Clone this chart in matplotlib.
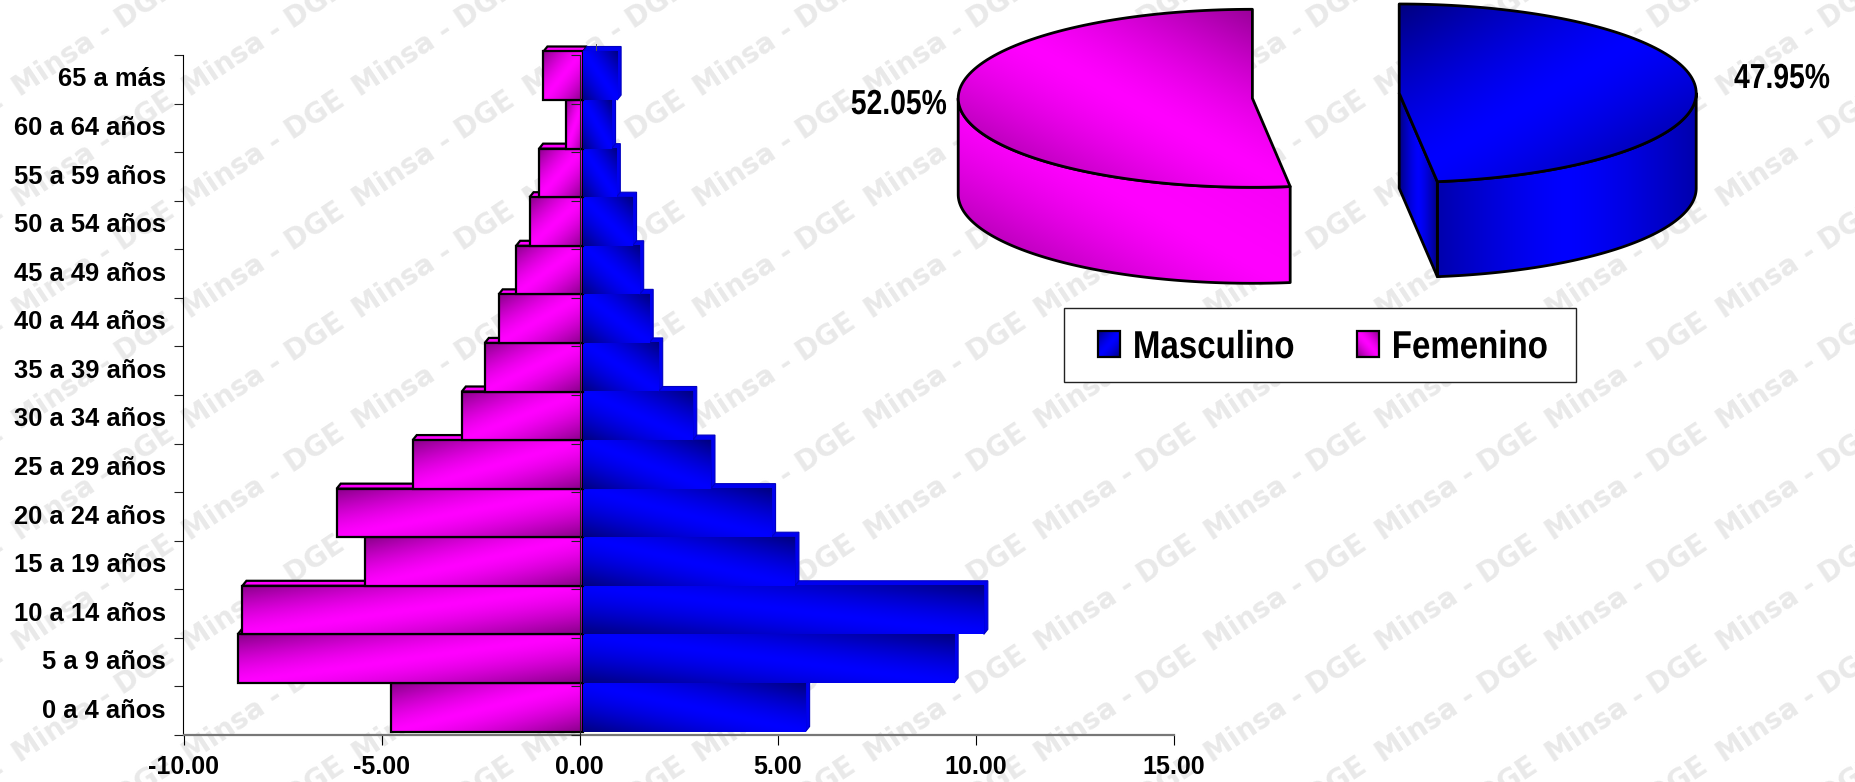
import numpy as np
import matplotlib
matplotlib.use("Agg")
import matplotlib.pyplot as plt
from matplotlib.patches import Rectangle, Polygon
from matplotlib.patheffects import AbstractPathEffect
from matplotlib.transforms import Affine2D

W, H = 1856, 782
categories = ["0 a 4 años", "5 a 9 años", "10 a 14 años", "15 a 19 años", "20 a 24 años",
              "25 a 29 años", "30 a 34 años", "35 a 39 años", "40 a 44 años", "45 a 49 años",
              "50 a 54 años", "55 a 59 años", "60 a 64 años", "65 a más"]
femenino = [-4.85, -8.72, -8.60, -5.51, -6.22, -4.30, -3.06, -2.48, -2.13, -1.69, -1.35, -1.11, -0.44, -1.00]
masculino = [5.62, 9.37, 10.12, 5.35, 4.76, 3.23, 2.77, 1.91, 1.67, 1.43, 1.25, 0.84, 0.72, 0.86]
xticks = [-10, -5, 0, 5, 10, 15]
pie_fem = 52.05
pie_masc = 47.95
legend_labels = ["Masculino", "Femenino"]
watermark = "Minsa - DGE"

MAG = (np.array([0x88, 0, 0x88]) / 255, np.array([1, 0, 1.0]))
BLU = (np.array([0, 0, 0x80]) / 255, np.array([0, 0, 1.0]))

plt.rcParams["font.family"] = ["Liberation Sans", "DejaVu Sans"]


class Squeeze(AbstractPathEffect):
    """Condense a text horizontally about its anchor (Arial Narrow look)."""

    def __init__(self, ax, x, y, k):
        super().__init__()
        self.ax, self.x, self.y, self.k = ax, x, y, k

    def draw_path(self, renderer, gc, tpath, affine, rgbFace=None):
        px, py = self.ax.transData.transform((self.x, self.y))
        a = affine + Affine2D().translate(-px, -py).scale(self.k, 1).translate(px, py)
        renderer.draw_path(gc, tpath, a, rgbFace)


fig = plt.figure(figsize=(W / 100, H / 100), dpi=100, facecolor="white")

# ---- pixel layer behind: watermark
bg = fig.add_axes([0, 0, 1, 1], zorder=0)
bg.set_xlim(0, W); bg.set_ylim(H, 0); bg.axis("off")
for j in range(-6, 3):
    for k in range(-9, 4):
        cx, cy = 1456.7 + 170.4 * k, 594 + 111 * j
        t = bg.text(cx, cy, watermark, rotation=33.5, rotation_mode="anchor", ha="center", va="center",
                    fontsize=20, fontweight="bold", family="DejaVu Sans", color="#e9e9e9")
        t.set_clip_path(Rectangle((cx - 86, cy - 56.7), 171, 111, transform=bg.transData))

# ---- main axes
L, R, T, B = 183.5, 1173.6, 55, 735
ax = fig.add_axes([L / W, 1 - B / H, (R - L) / W, (B - T) / H], zorder=1)
ax.patch.set_alpha(0)
ax.set_xlim(-10, 15); ax.set_ylim(0, 14)
ax.set_autoscale_on(False)
pxx = (R - L) / 25; pxy = (B - T) / 14


def grad(kind, pal, n=80):
    v, u = np.mgrid[0:1:n * 1j, 0:1:n * 1j]
    if kind == "mwall":
        s = u - v
        f = np.where(s < 0, 1 + s * 1.1, 1 - 0.35 * s)
    elif kind == "h":
        f = 1 - np.abs(2 * u - 1)
    else:
        s = u + v - 1 if kind == "tlbr" else u - v
        f = 1 - np.abs(s)
    f = np.clip(f, 0, 1)
    f = (1 - (1 - f) ** 1.4)[..., None]
    return pal[0] + (pal[1] - pal[0]) * f


sx, sy = 3.5 / pxx, 3.5 / pxy      # front plane offset
dx, dy = 4.0 / pxx, 5 / pxy        # depth of the 3D box
z = 2
for i in range(len(categories)):
    y0, y1 = i + sy, i + 1 + sy
    # feminine
    f = femenino[i] + sx
    ax.add_patch(Polygon([(f, y1), (f + dx, y1 + dy), (sx + dx, y1 + dy), (sx, y1)], closed=True,
                         fc="#ff00ff", ec="black", lw=1.6, zorder=z, clip_on=False))
    z += 1
    ax.imshow(grad("tlbr", MAG), extent=(f, sx, y0, y1), aspect="auto", origin="upper",
              interpolation="bilinear", zorder=z, clip_on=False)
    ax.add_patch(Rectangle((f, y0), sx - f, 1, fc="none", ec="black", lw=1.6, zorder=z + 1, clip_on=False))
    z += 2
    # masculine
    m = masculino[i] + sx
    ax.add_patch(Polygon([(sx, y1), (sx + dx, y1 + dy), (m + dx, y1 + dy), (m + dx, y0 + dy), (m, y0), (m, y1)],
                         closed=True, fc="#0000f0", ec="#0000c0", lw=0.8, zorder=z, clip_on=False))
    z += 1
    ax.imshow(grad("bltr", BLU), extent=(sx, m, y0, y1), aspect="auto", origin="upper",
              interpolation="bilinear", zorder=z, clip_on=False)
    z += 1

ax.set_xlim(-10, 15); ax.set_ylim(0, 14)
# zero axis drawn over the bars
ax.plot([0, 0], [0, 14], color="#222222", lw=0.8, zorder=z, clip_on=False)
ax.plot([0] * 15, range(15), ls="", marker=0, ms=6.8, mew=0.8, color="#222222", zorder=z, clip_on=False)
ax.plot([16 / pxx, 16 / pxx], [14 + 5 / pxy, 14 + 11 / pxy], color="#555555", lw=0.7, zorder=z, clip_on=False)

for s in ("top", "right"):
    ax.spines[s].set_visible(False)
ax.spines["left"].set_color("black"); ax.spines["left"].set_linewidth(0.8)
ax.spines["bottom"].set_color("#777777"); ax.spines["bottom"].set_linewidth(1.6)
ax.set_xticks(xticks, [f"{v:.2f}" for v in xticks], fontsize=18, fontweight="bold")
ax.tick_params(axis="x", length=7.2, width=0.8, color="black", pad=7.5)
ax.set_yticks(range(15), [""] * 15)
ax.tick_params(axis="y", which="major", length=6.8, width=0.8, color="#222222")
ax.set_yticks(np.arange(14) + 0.55, categories, minor=True, fontsize=18.4, fontweight="bold")
ax.tick_params(axis="y", which="minor", length=0, pad=12.6)

# ---- pixel layer on top: pies and legend
ov = fig.add_axes([0, 0, 1, 1], zorder=2)
ov.set_xlim(0, W); ov.set_ylim(H, 0); ov.axis("off"); ov.set_autoscale_on(False)


def arc(cx, cy, a, b, sign, t0, t1, off=0, n=120):
    th = np.radians(np.linspace(t0, t1, n))
    return np.column_stack([cx + sign * a * np.sin(th), cy - b * np.cos(th) + off])


def face(pts, kind, pal, zo):
    pts = np.asarray(pts)
    x0, y0 = pts.min(0); x1, y1 = pts.max(0)
    im = ov.imshow(grad(kind, pal), extent=(x0, x1, y1, y0), aspect="auto", origin="upper",
                   interpolation="bilinear", zorder=zo)
    p = Polygon(pts, closed=True, fc="none", ec="black", lw=2.0, joinstyle="round", zorder=zo + 1)
    ov.add_patch(p)
    im.set_clip_path(p)


# magenta slice
cx, cy, a, b, d = 1252.4, 98.3, 294.2, 89, 96
end = 360 * pie_fem / 100
top = arc(cx, cy, a, b, -1, 0, end)
wall = arc(cx, cy, a, b, -1, 90, end)
face(np.vstack([wall, wall[::-1] + [0, d]]), "mwall", (np.array([0.6, 0, 0.6]), MAG[1]), 10)
face(np.vstack([[(cx, cy)], top]), "bltr", MAG, 12)

# blue slice
cx, cy, a, b, d = 1399.2, 93.2, 297, 89.2, 95
end = 360 * pie_masc / 100
top = arc(cx, cy, a, b, 1, 0, end)
wall = arc(cx, cy, a, b, 1, 90, end)
c = top[-1]
face(np.vstack([wall, wall[::-1] + [0, d]]), "h", (np.array([0, 0, 0.68]), BLU[1]), 10)
face([(cx, cy), c, c + [0, d], (cx, cy + d)], "h", (np.array([0, 0, 0.5]), BLU[1]), 12)
face(np.vstack([[(cx, cy)], top]), "tlbr", BLU, 14)

ov.text(946.7, 104.5, f"{pie_fem:.2f}%", ha="right", va="center", fontsize=25, fontweight="bold", zorder=20,
        path_effects=[Squeeze(ov, 946.7, 104.5, 0.815)])
ov.text(1734, 78.5, f"{pie_masc:.2f}%", ha="left", va="center", fontsize=25, fontweight="bold", zorder=20,
        path_effects=[Squeeze(ov, 1734, 78.5, 0.815)])

# legend
ov.add_patch(Rectangle((1064.3, 308), 512.1, 73.7, fc="white", ec="#222222", lw=1.0, zorder=30))
for x0, pal, kind, lab, tx in [(1098, BLU, "tlbr", legend_labels[0], 1132.9), (1357, MAG, "bltr", legend_labels[1], 1391.8)]:
    ov.imshow(grad(kind, pal, 20), extent=(x0, x0 + 22.4, 356.7, 330.7), aspect="auto", origin="upper",
              interpolation="bilinear", zorder=31)
    ov.add_patch(Rectangle((x0, 330.7), 22.4, 26, fc="none", ec="black", lw=1.6, zorder=32))
    ov.text(tx, 358, lab, ha="left", va="baseline", fontsize=28, fontweight="bold", zorder=33,
            path_effects=[Squeeze(ov, tx, 358, 0.85)])
ov.set_xlim(0, W); ov.set_ylim(H, 0)

fig.savefig("out.png", dpi=100, facecolor="white")
